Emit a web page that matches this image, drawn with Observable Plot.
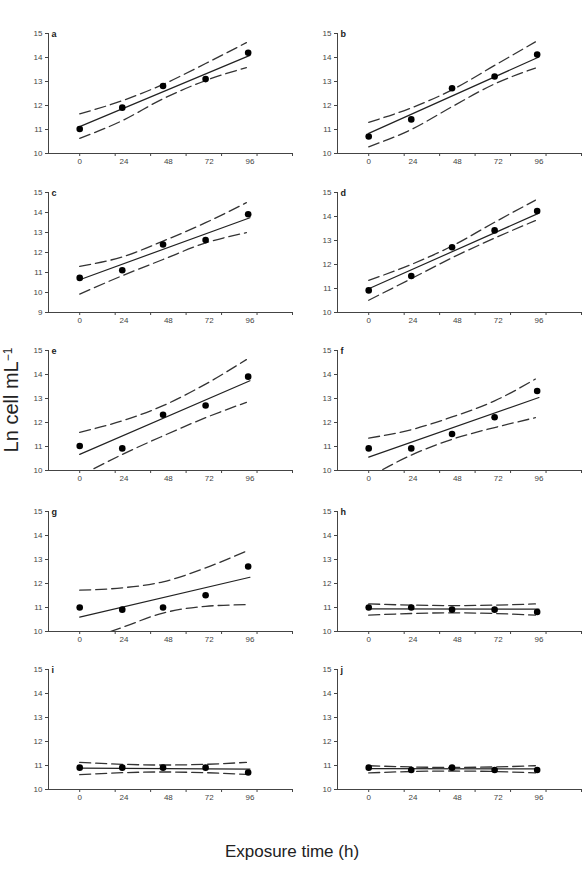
<!DOCTYPE html>
<html>
<head>
<meta charset="utf-8">
<script src="https://cdn.jsdelivr.net/npm/d3@7"></script>
<script src="https://cdn.jsdelivr.net/npm/@observablehq/plot@0.6"></script>
<style>
  html, body { margin: 0; padding: 0; background: #fff; }
  #fig { position: relative; width: 588px; height: 873px; background: #fff; font-family: "Liberation Sans", Arial, sans-serif; overflow: hidden; }
  .panel { position: absolute; }
  #ytitle { position: absolute; left: 12px; top: 400px; transform: translate(-50%, -50%) rotate(-90deg); font-size: 20px; line-height: 22px; color: #222; white-space: nowrap; }
  #xtitle { position: absolute; left: 292px; top: 852px; transform: translate(-50%, -50%); font-size: 17px; color: #222; white-space: nowrap; }
</style>
</head>
<body>
<div id="fig">
  <div id="ytitle">Ln cell mL<span style="font-size:12px; position:relative; top:-6px">−1</span></div>
  <div id="xtitle">Exposure time (h)</div>
</div>
<script>
// ---- data ----
const panelLetters = ["a", "b", "c", "d", "e", "f", "g", "h", "i", "j"];
const hourLabels = ["0", "24", "48", "72", "96"];
const hourLabelPos = [0, 25, 50, 73, 96];
const obsHours = [0, 24, 47, 71, 95];
const bandHours = [0, 24, 47, 71, 94];
const fitHours = [0, 96];
const yMin = [10, 10, 9, 10, 10, 10, 10, 10, 10, 10];

const obsValues = [
  [11.02, 11.91, 12.81, 13.10, 14.20],
  [10.71, 11.42, 12.72, 13.21, 14.12],
  [10.73, 11.11, 12.40, 12.62, 13.91],
  [10.92, 11.52, 12.72, 13.42, 14.23],
  [11.02, 10.92, 12.32, 12.71, 13.91],
  [10.92, 10.92, 11.52, 12.22, 13.31],
  [11.00, 10.91, 11.00, 11.51, 12.71],
  [11.00, 11.00, 10.91, 10.91, 10.81],
  [10.91, 10.91, 10.91, 10.91, 10.71],
  [10.91, 10.81, 10.91, 10.81, 10.81]
];
const fitValues = [
  [11.12, 14.09],
  [10.84, 14.02],
  [10.64, 13.74],
  [10.99, 14.14],
  [10.67, 13.74],
  [10.56, 13.04],
  [10.60, 12.26],
  [10.94, 10.93],
  [10.89, 10.85],
  [10.87, 10.86]
];
const upperValues = [
  [11.65, 12.20, 12.88, 13.75, 14.62],
  [11.30, 11.90, 12.65, 13.67, 14.65],
  [11.31, 11.78, 12.57, 13.49, 14.49],
  [11.34, 12.00, 12.77, 13.76, 14.68],
  [11.59, 12.07, 12.70, 13.60, 14.62],
  [11.35, 11.70, 12.23, 12.90, 13.81],
  [11.72, 11.82, 12.07, 12.65, 13.35],
  [11.15, 11.10, 11.08, 11.10, 11.15],
  [11.13, 11.05, 11.02, 11.05, 11.13],
  [10.99, 10.94, 10.92, 10.94, 10.99]
];
const lowerValues = [
  [10.63, 11.37, 12.28, 13.04, 13.58],
  [10.28, 11.00, 11.95, 12.90, 13.56],
  [9.92, 10.84, 11.65, 12.48, 12.99],
  [10.51, 11.41, 12.28, 13.10, 13.83],
  [9.77, 10.67, 11.44, 12.20, 12.84],
  [9.72, 10.64, 11.30, 11.79, 12.20],
  [9.55, 10.17, 10.77, 11.05, 11.12],
  [10.68, 10.75, 10.78, 10.75, 10.68],
  [10.62, 10.70, 10.73, 10.70, 10.63],
  [10.69, 10.75, 10.77, 10.75, 10.69]
];

// ---- layout ----
const colLeft = [0, 289];
const rowTop = [23, 182, 340, 501, 659];
const W = 296, H = 160, ML = 48, MR = 4, MT = 10, MB = 30;
const axisColor = "#444";

const fig = document.getElementById("fig");

panelLetters.forEach((letter, p) => {
  const col = p % 2, row = Math.floor(p / 2);
  const pts = obsHours.map((h, i) => ({h, v: obsValues[p][i]}));
  const fit = fitHours.map((h, i) => ({h, v: fitValues[p][i]}));
  const up = bandHours.map((h, i) => ({h, v: upperValues[p][i]}));
  const lo = bandHours.map((h, i) => ({h, v: lowerValues[p][i]}));
  const yTicks = d3.range(yMin[p], 16);
  const labs = hourLabels.map((t, i) => ({t, x: hourLabelPos[i]}));

  const chart = Plot.plot({
    width: W, height: H,
    marginLeft: ML, marginRight: MR, marginTop: MT, marginBottom: MB,
    style: {fontFamily: "Liberation Sans, Arial, sans-serif", background: "transparent"},
    x: {domain: [-17.6, 120], axis: null},
    y: {domain: [yMin[p], 15], axis: null},
    marks: [
      Plot.axisY({ticks: yTicks, tickFormat: "d", label: null, tickSize: 3, tickPadding: 3, fontSize: 8, color: axisColor, stroke: axisColor, anchor: "left"}),
      Plot.axisX({ticks: d3.range(0, 121, 20), label: null, tickSize: 3, tickFormat: () => "", stroke: axisColor, anchor: "bottom"}),
      Plot.frame({anchor: "left", stroke: axisColor}),
      Plot.frame({anchor: "bottom", stroke: axisColor}),
      Plot.text(labs, {x: "x", text: "t", frameAnchor: "bottom", dy: 10, fontSize: 8, fill: axisColor}),
      Plot.text([letter], {frameAnchor: "top-left", dx: 3, dy: -3, text: d => d, fontSize: 9, fontWeight: "bold", fill: "#222", textAnchor: "start"}),
      Plot.line(up, {x: "h", y: "v", curve: "monotone-x", stroke: "#333", strokeWidth: 1.3, strokeDasharray: "11,5", clip: true}),
      Plot.line(lo, {x: "h", y: "v", curve: "monotone-x", stroke: "#333", strokeWidth: 1.3, strokeDasharray: "11,5", clip: true}),
      Plot.line(fit, {x: "h", y: "v", stroke: "#222", strokeWidth: 1.2}),
      Plot.dot(pts, {x: "h", y: "v", r: 3.3, fill: "#000", stroke: "none"})
    ]
  });
  chart.classList.add("panel");
  chart.style.left = colLeft[col] + "px";
  chart.style.top = rowTop[row] + "px";
  fig.appendChild(chart);
});
</script>
</body>
</html>
